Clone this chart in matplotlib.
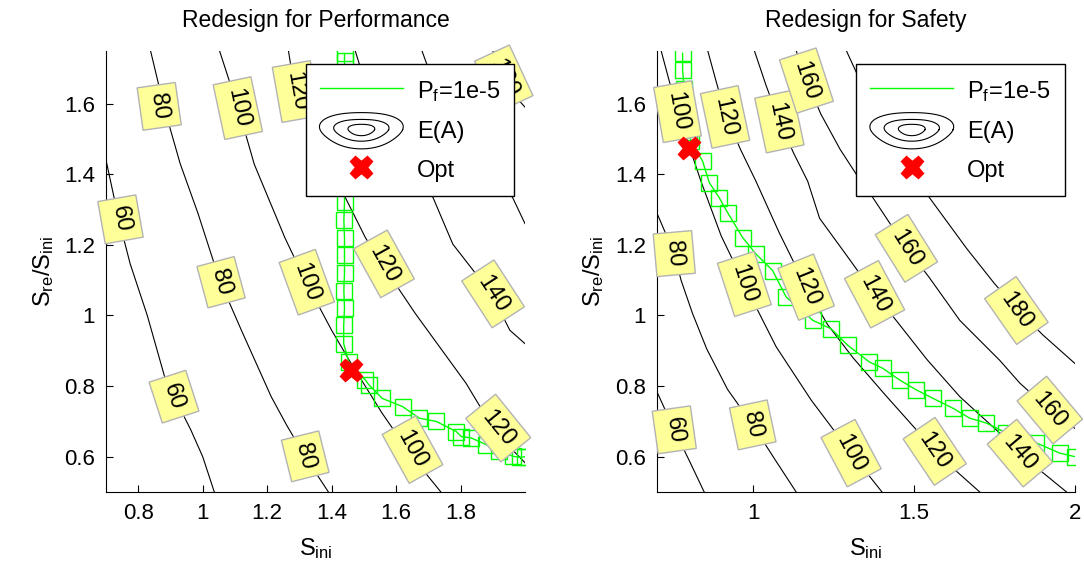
import numpy as np
import matplotlib
matplotlib.use("Agg")
import matplotlib.pyplot as plt
from matplotlib.lines import Line2D
from matplotlib.legend_handler import HandlerBase

plt.rcParams['font.family'] = ['Liberation Sans', 'DejaVu Sans']
plt.rcParams['mathtext.default'] = 'regular'

# ---------------- data: left panel (Redesign for Performance) ----------------
L_levels = [60, 80, 100, 120, 140, 160, 180]
L_x = {
    60:  [0.70, 0.74, 0.775, 0.828, 0.89, 0.911, 0.963, 1.0, 1.036],
    80:  [0.838, 0.88, 0.93, 0.985, 1.036, 1.057, 1.12, 1.2125, 1.26, 1.318, 1.39],
    100: [1.052, 1.11, 1.16, 1.255, 1.318, 1.40, 1.46, 1.556, 1.65, 1.739],
    120: [1.266, 1.286, 1.36, 1.443, 1.505, 1.556, 1.66, 1.817, 1.91, 2.0],
    140: [1.473, 1.49, 1.60, 1.715, 1.776, 1.896, 1.953, 2.0],
    160: [1.68, 1.70, 1.80, 1.89, 1.962, 2.0],
    180: [1.90, 1.92, 1.96, 2.0],
}
L_y = {
    60:  [1.44, 1.27, 1.146, 1.0, 0.80, 0.77, 0.676, 0.60, 0.50],
    80:  [1.75, 1.59, 1.43, 1.29, 1.146, 1.09, 0.958, 0.77, 0.69, 0.60, 0.50],
    100: [1.75, 1.587, 1.428, 1.22, 1.099, 0.958, 0.865, 0.724, 0.60, 0.50],
    120: [1.75, 1.634, 1.48, 1.333, 1.22, 1.146, 1.005, 0.808, 0.667, 0.583],
    140: [1.75, 1.70, 1.50, 1.333, 1.202, 1.061, 0.958, 0.92],
    160: [1.75, 1.70, 1.53, 1.42, 1.333, 1.26],
    180: [1.75, 1.70, 1.63, 1.59],
}
L_lab_text = ['80', '100', '120', '180', '60', '80', '100', '120', '140', '60', '80', '100', '120']
L_lab_x = [0.865, 1.109, 1.29, 1.934, 0.745, 1.057, 1.323, 1.5625, 1.901, 0.911, 1.318, 1.651, 1.917]
L_lab_y = [1.592, 1.587, 1.634, 1.671, 1.272, 1.094, 1.094, 1.146, 1.061, 0.77, 0.601, 0.62, 0.681]
L_lab_rot = [-82, -78, -80, -65, -80, -75, -70, -61, -57, -72, -76, -61, -51]

L_pf_x = [1.44, 1.44, 1.442, 1.44, 1.44, 1.438, 1.44, 1.44, 1.44, 1.44, 1.438, 1.44, 1.44,
          1.44, 1.438, 1.44, 1.4375, 1.4375, 1.453, 1.505, 1.516, 1.557, 1.62, 1.672,
          1.724, 1.787, 1.802, 1.833, 1.88, 1.92, 1.963, 1.985, 2.0]
L_pf_y = [1.742, 1.72, 1.67, 1.62, 1.57, 1.52, 1.47, 1.42, 1.37, 1.32, 1.27, 1.22, 1.17,
          1.12, 1.07, 1.02, 0.972, 0.92, 0.868, 0.817, 0.803, 0.765, 0.742, 0.709,
          0.70, 0.671, 0.657, 0.653, 0.634, 0.615, 0.601, 0.598, 0.60]
L_opt = (1.459, 0.845)

# ---------------- data: right panel (Redesign for Safety) ----------------
R_levels = [60, 80, 100, 120, 140, 160, 180]
R_x = {
    60:  [0.70, 0.754, 0.80, 0.847],
    80:  [0.70, 0.754, 0.775, 0.811, 0.855, 0.92, 0.998, 1.065, 1.133],
    100: [0.713, 0.764, 0.80, 0.837, 0.90, 0.972, 1.071, 1.18, 1.304, 1.40],
    120: [0.858, 0.885, 0.915, 0.96, 1.008, 1.08, 1.164, 1.23, 1.31, 1.41, 1.507, 1.56, 1.63, 1.704],
    140: [1.003, 1.04, 1.081, 1.125, 1.169, 1.206, 1.29, 1.377, 1.444, 1.54, 1.642, 1.766, 1.829, 1.90, 1.974],
    160: [1.133, 1.165, 1.21, 1.27, 1.32, 1.372, 1.476, 1.545, 1.642, 1.766, 1.829, 1.922, 2.0],
    180: [1.289, 1.36, 1.45, 1.548, 1.663, 1.75, 1.818, 1.90, 2.0],
}
R_y = {
    60:  [0.784, 0.676, 0.59, 0.50],
    80:  [1.29, 1.175, 1.10, 1.005, 0.905, 0.79, 0.69, 0.595, 0.50],
    100: [1.75, 1.577, 1.48, 1.38, 1.225, 1.089, 0.911, 0.76, 0.61, 0.50],
    120: [1.75, 1.66, 1.565, 1.47, 1.38, 1.235, 1.08, 0.975, 0.88, 0.775, 0.676, 0.625, 0.56, 0.50],
    140: [1.75, 1.65, 1.55, 1.46, 1.38, 1.275, 1.17, 1.06, 0.986, 0.875, 0.77, 0.667, 0.61, 0.555, 0.50],
    160: [1.75, 1.665, 1.57, 1.47, 1.40, 1.333, 1.19, 1.11, 0.986, 0.873, 0.808, 0.732, 0.68],
    180: [1.75, 1.61, 1.46, 1.333, 1.19, 1.09, 1.02, 0.945, 0.864],
}
R_lab_text = ['100', '120', '140', '160', '80', '100', '120', '140', '160', '180',
              '60', '80', '100', '120', '140', '160']
R_lab_x = [0.764, 0.912, 1.081, 1.165, 0.754, 0.972, 1.164, 1.377, 1.476, 1.818,
           0.754, 0.998, 1.304, 1.564, 1.829, 1.922]
R_lab_y = [1.577, 1.562, 1.549, 1.665, 1.175, 1.089, 1.08, 1.06, 1.19, 1.014,
           0.676, 0.69, 0.61, 0.615, 0.61, 0.732]
R_lab_rot = [-80, -78, -78, -72, -85, -72, -68, -62, -58, -55,
             -82, -78, -62, -56, -50, -50]

R_pf_x = [0.78, 0.78, 0.785, 0.79, 0.80, 0.806, 0.842, 0.863, 0.894, 0.92, 0.967, 1.008,
          1.06, 1.102, 1.185, 1.242, 1.294, 1.361, 1.403, 1.455, 1.507, 1.559, 1.621,
          1.673, 1.725, 1.787, 1.88, 1.953, 2.0]
R_pf_y = [1.742, 1.695, 1.64, 1.58, 1.52, 1.493, 1.437, 1.376, 1.333, 1.291, 1.22, 1.174,
          1.127, 1.052, 0.986, 0.962, 0.915, 0.868, 0.85, 0.817, 0.789, 0.765, 0.737,
          0.709, 0.695, 0.667, 0.639, 0.61, 0.60]
R_opt = (0.80, 1.474)

titles = ['Redesign for Performance', 'Redesign for Safety']
L_xticks = [0.8, 1.0, 1.2, 1.4, 1.6, 1.8]
L_xticklabels = ['0.8', '1', '1.2', '1.4', '1.6', '1.8']
R_xticks = [1.0, 1.5, 2.0]
R_xticklabels = ['1', '1.5', '2']
yticks = [0.6, 0.8, 1.0, 1.2, 1.4, 1.6]
yticklabels = ['0.6', '0.8', '1', '1.2', '1.4', '1.6']

GREEN = '#00FF00'
LABEL_FC = '#FFFF99'
LABEL_EC = '#B3B3B3'


class ContourIconHandler(HandlerBase):
    def create_artists(self, legend, orig_handle, xdescent, ydescent,
                       width, height, fontsize, trans):
        cx = -xdescent + width / 2.0
        cy = -ydescent + height / 2.0
        t = np.linspace(0, 2 * np.pi, 80)
        arts = []
        for rx, ry in [(0.50, 0.80), (0.33, 0.48), (0.16, 0.25)]:
            wob = 1 + 0.06 * np.sin(3 * t)
            xs = cx + rx * width * np.cos(t) * wob
            ys = cy + ry * height * np.sin(t) * wob
            ln = Line2D(xs, ys, color='k', lw=0.8)
            ln.set_transform(trans)
            arts.append(ln)
        return arts


fig = plt.figure(figsize=(10.84, 5.74), dpi=100)
axL = fig.add_axes([0.0978, 0.1429, 0.3865, 0.769])
axR = fig.add_axes([0.606, 0.1429, 0.3856, 0.769])

panels = [
    (axL, L_levels, L_x, L_y, L_lab_text, L_lab_x, L_lab_y, L_lab_rot, L_pf_x, L_pf_y, L_opt,
     L_xticks, L_xticklabels, titles[0]),
    (axR, R_levels, R_x, R_y, R_lab_text, R_lab_x, R_lab_y, R_lab_rot, R_pf_x, R_pf_y, R_opt,
     R_xticks, R_xticklabels, titles[1]),
]

for (ax, levels, cx, cy, lt, lx, ly, lr, px, py, opt, xt, xtl, title) in panels:
    for lev in levels:
        ax.plot(cx[lev], cy[lev], color='k', lw=0.8, zorder=1)
    ax.plot(px, py, color=GREEN, lw=1.0, marker='s', ms=11, mfc='none',
            mec=GREEN, mew=1.0, zorder=2)
    for s, x, y, r in zip(lt, lx, ly, lr):
        ax.text(x, y, s, rotation=r, rotation_mode='anchor', ha='center', va='center',
                fontsize=17, zorder=3, clip_on=False,
                bbox=dict(boxstyle='square,pad=0.35', fc=LABEL_FC, ec=LABEL_EC, lw=1.0))
    ax.plot([opt[0]], [opt[1]], linestyle='none', marker='X', ms=16,
            color='red', mec='red', zorder=5)
    ax.set_xlim(0.7, 2.0)
    ax.set_ylim(0.5, 1.75)
    ax.set_xticks(xt)
    ax.set_xticklabels(xtl)
    ax.set_yticks(yticks)
    ax.set_yticklabels(yticklabels)
    ax.tick_params(direction='in', length=5, width=0.8, labelsize=16, top=False, right=False,
                   pad=8)
    ax.spines['top'].set_visible(False)
    ax.spines['right'].set_visible(False)
    ax.set_title(title, fontsize=16.5, y=1.0, pad=17)
    ax.set_xlabel('$S_{ini}$', fontsize=17, labelpad=9)
    ax.set_ylabel('$S_{re}/S_{ini}$', fontsize=17, labelpad=6)

    ea = Line2D([], [], color='k')
    pfh = Line2D([], [], color=GREEN, lw=1.0)
    opth = Line2D([], [], linestyle='none', marker='X', ms=16, color='red')
    leg = ax.legend([pfh, ea, opth], ['$P_f$=1e-5', 'E(A)', 'Opt'],
                    handler_map={ea: ContourIconHandler()},
                    loc='upper left', bbox_to_anchor=(0.477, 0.969), borderaxespad=0,
                    fontsize=17, handlelength=3.5, handleheight=1.1, handletextpad=0.6,
                    labelspacing=0.62, borderpad=0.6, fancybox=False, framealpha=1,
                    edgecolor='k')
    leg.get_frame().set_linewidth(1.0)
    leg.set_zorder(10)

fig.savefig('out.png', dpi=100)
